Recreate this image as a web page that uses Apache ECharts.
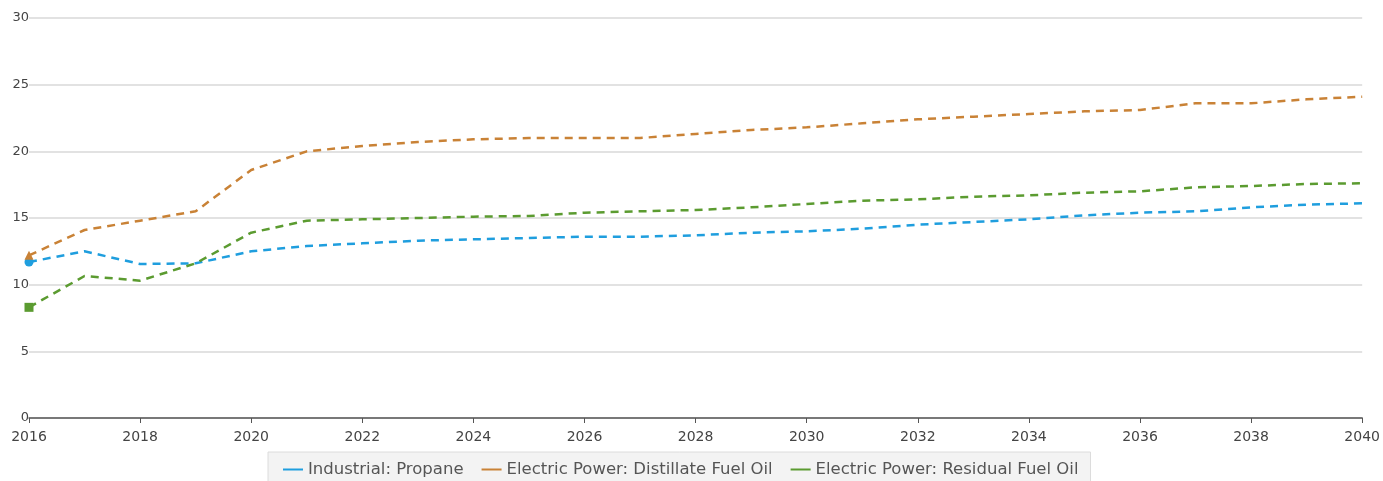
<!DOCTYPE html>
<html>
<head>
<meta charset="utf-8">
<script src="https://cdn.jsdelivr.net/npm/echarts@6/dist/echarts.min.js"></script>
<style>
html,body{margin:0;padding:0;background:#fff;}
#c{width:1383px;height:481px;}
</style>
</head>
<body>
<div id="c"></div>
<script>
var years = [2016,2017,2018,2019,2020,2021,2022,2023,2024,2025,2026,2027,2028,2029,2030,2031,2032,2033,2034,2035,2036,2037,2038,2039,2040];
var propane = [11.7,12.5,11.55,11.6,12.5,12.9,13.1,13.3,13.4,13.5,13.6,13.6,13.7,13.9,14.0,14.2,14.5,14.7,14.9,15.2,15.4,15.5,15.8,16.0,16.1];
var distillate = [12.2,14.1,14.8,15.5,18.6,20.0,20.4,20.7,20.9,21.0,21.0,21.0,21.3,21.6,21.8,22.1,22.4,22.6,22.8,23.0,23.1,23.6,23.6,23.9,24.1];
var residual = [8.3,10.65,10.3,11.6,13.9,14.8,14.9,15.0,15.1,15.15,15.4,15.5,15.6,15.8,16.05,16.3,16.4,16.6,16.7,16.9,17.0,17.3,17.4,17.55,17.6];
var seriesNames = ['Industrial: Propane','Electric Power: Distillate Fuel Oil','Electric Power: Residual Fuel Oil'];
var colors = ['#1f9ede','#c98236','#5b9b30'];
var symbols = ['circle','triangle','rect'];

function mk(name, vals, color, sym){
  return {
    name: name, type: 'line', data: vals.map(function(v,i){
      return i === 0 ? {value: v, symbol: sym, symbolSize: 9, itemStyle:{color: color}} : {value: v, symbol: 'none'};
    }),
    showAllSymbol: true,
    lineStyle: {color: color, width: 2.5, type: [8,6]},
    itemStyle: {color: color},
    emphasis: {disabled: true}
  };
}

var FONT = 'DejaVu Sans, Liberation Sans, sans-serif';
var chart = echarts.init(document.getElementById('c'));
chart.setOption({
  animation: false,
  color: colors,
  grid: {left: 29, right: 15, top: 18, bottom: 63, containLabel: false},
  legend: {
    top: 452, left: 268,
    backgroundColor: '#f3f3f3', borderColor: '#dcdcdc', borderWidth: 1,
    padding: [9, 12, 10, 15],
    itemWidth: 20, itemHeight: 2, itemGap: 18,
    icon: 'rect',
    textStyle: {color: '#555', fontSize: 16.5, fontFamily: FONT},
    data: seriesNames.map(function(n){return {name: n, icon: 'rect'};})
  },
  xAxis: {
    type: 'category', data: years.map(String), boundaryGap: false,
    axisLine: {lineStyle: {color: '#555', width: 1.5}},
    axisTick: {interval: 1, length: 5, lineStyle: {color: '#555'}},
    axisLabel: {interval: 1, color: '#444', fontSize: 14, margin: 12, fontFamily: FONT, showMaxLabel: true},
    splitLine: {show: false}
  },
  yAxis: {
    type: 'value', min: 0, max: 30, interval: 5,
    axisLine: {show: false}, axisTick: {show: false},
    axisLabel: {color: '#444', fontSize: 13, margin: 0, fontFamily: FONT},
    splitLine: {lineStyle: {color: '#d9d9d9', width: 1.5}}
  },
  series: [
    mk(seriesNames[0], propane, colors[0], symbols[0]),
    mk(seriesNames[1], distillate, colors[1], symbols[1]),
    mk(seriesNames[2], residual, colors[2], symbols[2])
  ]
});
</script>
</body>
</html>
